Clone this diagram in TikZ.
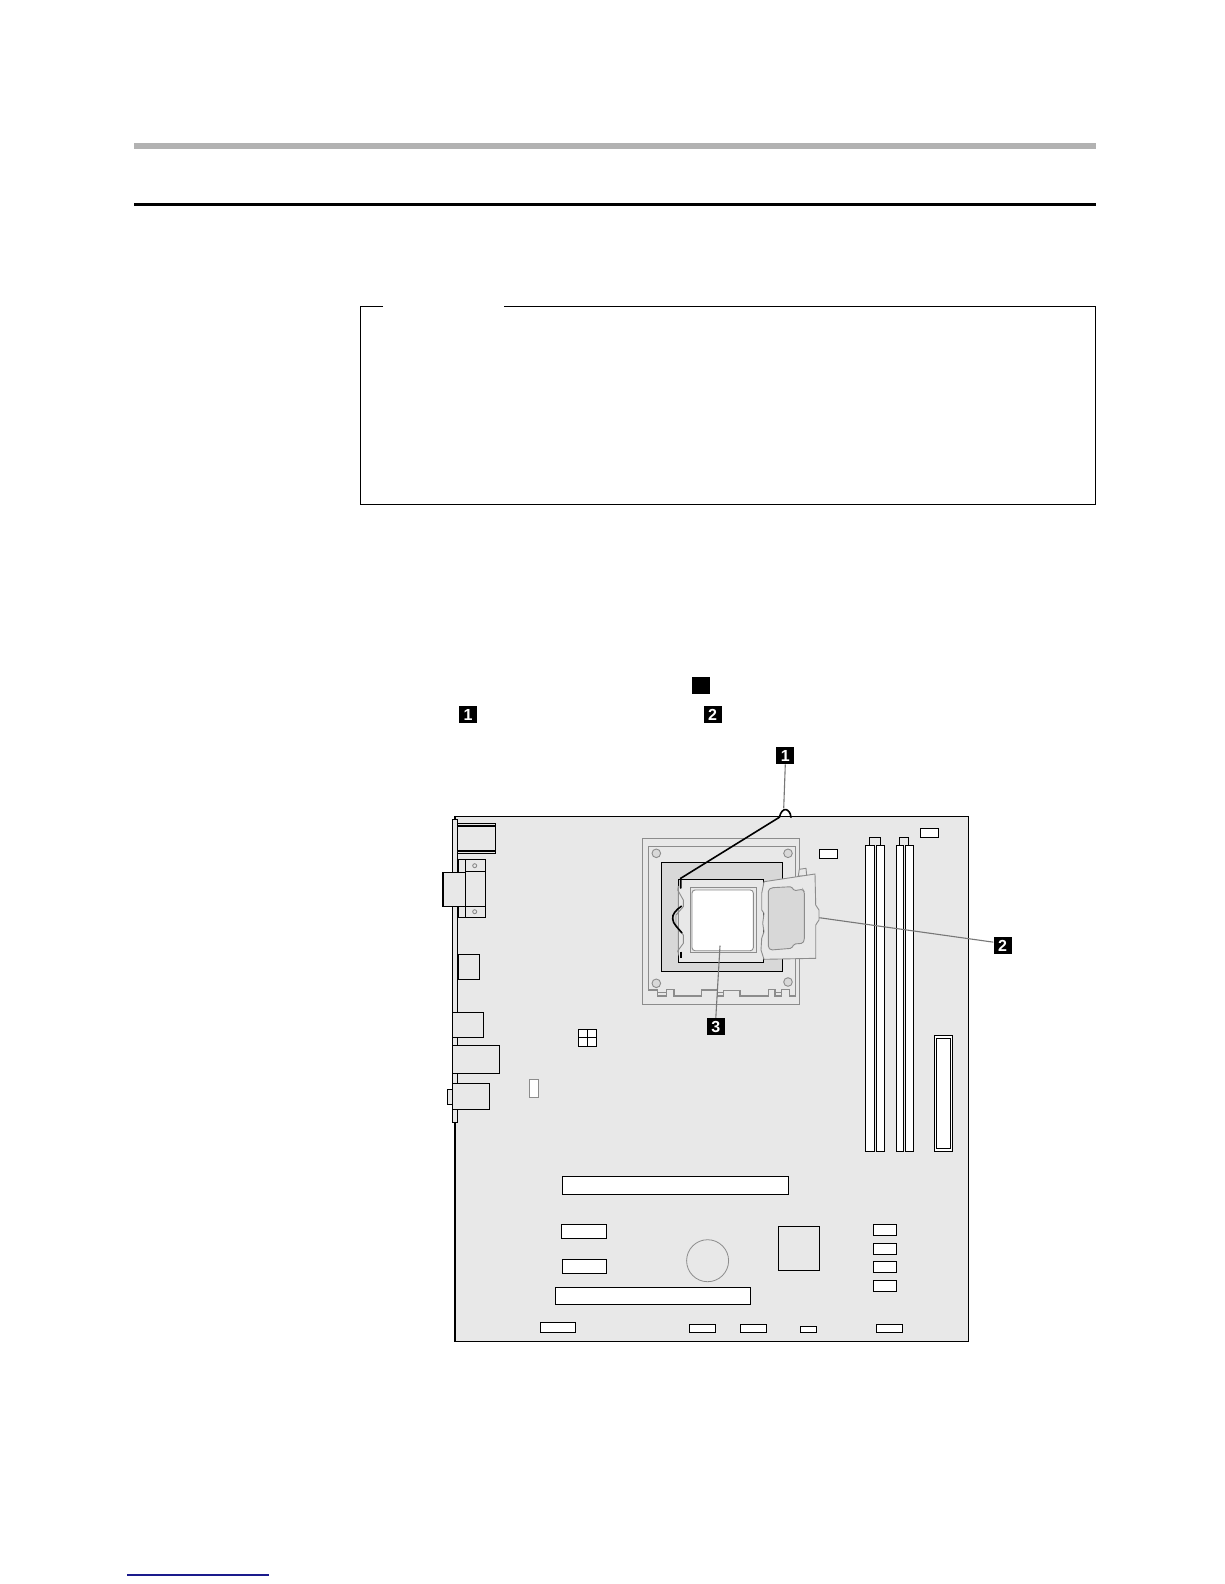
\documentclass[tikz,border=0pt]{standalone}
\usepackage{fontspec}
\setmainfont{Liberation Sans}
\definecolor{boardgray}{HTML}{E8E8E8}
\definecolor{socketgray}{HTML}{D8D8D8}
\definecolor{rulegray}{HTML}{B2B2B2}
\definecolor{leadgray}{HTML}{777777}
\definecolor{softgray}{HTML}{8C8C8C}
\definecolor{linkblue}{HTML}{1A1A8C}
\begin{document}
\begin{tikzpicture}[x=1pt,y=-1pt,line join=miter]
  \tikzstyle{part}=[draw=black,line width=1.1pt,fill=boardgray]
  \tikzstyle{slot}=[draw=black,line width=1.1pt,fill=white]
  \tikzstyle{soft}=[draw=softgray,line width=0.9pt]
  \tikzstyle{leader}=[draw=leadgray,line width=1.1pt]
  \tikzstyle{callout}=[fill=black,text=white,inner sep=0pt,minimum width=18pt,minimum height=17pt,
                       font=\fontsize{16}{16}\selectfont\bfseries]
  \useasboundingbox (0,0) rectangle (1224,1584);
  \fill[white] (0,0) rectangle (1224,1584);
  % page rules
  \fill[rulegray] (134,143) rectangle (1096,149);
  \fill[black] (134,203) rectangle (1096,206.4);
  \draw[line width=0.9pt] (383,306.5) -- (360.5,306.5) -- (360.5,504) -- (1095.5,504)
                          -- (1095.5,306.5) -- (504,306.5);
  \draw[linkblue,line width=1.1pt] (127,1575) -- (269,1575);
  % callouts in the text
  \node[callout] (blanksq) at (701,685.5) {};
  \node[callout] (textone) at (468,714.5) {1};
  \node[callout] (texttwo) at (712.5,714.5) {2};
  % board
  \draw[part] (455,816.3) rectangle (968.7,1341.3);
  \draw[part] (452.3,819.3) rectangle (457.7,1122.3);
  % rear ports
  \foreach \xa/\ya/\xb/\yb in {457.7/823.3/495.7/853.3, 458.3/859.3/485.7/917.3,
                               443/872.3/465.3/906.7, 458.3/954.3/479.7/979.7,
                               452.3/1012.3/483.3/1037.3, 452.3/1045.3/499.7/1073.3,
                               452.3/1083.3/489.7/1109.3, 447.3/1089.3/452.3/1104.3}
    \draw[part] (\xa,\ya) rectangle (\xb,\yb);
  \draw[part] (465.3,859.3) -- (465.3,917.3)
              (465.3,871.3) -- (485.7,871.3) (465.3,906.7) -- (485.7,906.7)
              (457.7,826) -- (495.7,826) (457.7,851) -- (495.7,851);
  \draw[soft] (474.7,865.7) circle (2) (474.7,911.7) circle (2);
  % power header and white pin
  \draw[slot] (578.3,1029.3) rectangle (596.3,1046.3);
  \draw[part,fill=none] (587.3,1029.3) -- (587.3,1046.3) (578.3,1037.3) -- (596.3,1037.3);
  \draw[soft,fill=white] (529.7,1079.3) rectangle (538.7,1097.7);
  % slots and headers
  \foreach \xa/\ya/\xb/\yb in {562.2/1176.3/788.5/1194.3, 561.2/1224.3/606.7/1238.7,
                               562.2/1259.3/606.7/1273.7, 555.4/1287.3/750.6/1304.3,
                               540.2/1322.3/575.7/1332.7, 689.3/1324.3/715.5/1332.7,
                               740.3/1324.3/766.8/1332.7, 800.2/1326.3/816.7/1332.7,
                               876.3/1324.3/902.5/1332.7, 873.2/1224.3/896.6/1235.7,
                               873.2/1243.3/896.6/1254.7, 873.2/1261.3/896.6/1272.7,
                               873.2/1280.3/896.6/1291.7, 920.3/828.3/938.7/837.3,
                               819.3/849.3/837.7/858.7}
    \draw[slot] (\xa,\ya) rectangle (\xb,\yb);
  \draw[part] (778.2,1226.3) rectangle (819.5,1270.7);
  \draw[soft,line width=0.8pt] (707.6,1260.7) circle (21);
  % memory sockets
  \draw[part,fill=none] (869.3,845.3) -- (869.3,837.3) -- (880.7,837.3) -- (880.7,845.3)
                        (899.7,845.3) -- (899.7,837.3) -- (908.7,837.3) -- (908.7,845.3);
  \foreach \xa/\xb in {865.3/874.7, 876.3/884.4, 896.3/903.7, 905.3/913.4}
    \draw[slot] (\xa,845.3) rectangle (\xb,1151.7);
  \draw[slot] (934.3,1035.3) rectangle (952.7,1151.7);
  \draw[slot] (936.3,1038.3) rectangle (950.7,1148.3);
  % processor socket
  \draw[soft,fill=boardgray,line width=1.1pt] (642.7,838.3) rectangle (799.3,1004.3);
  \draw[soft,line width=1.1pt] (648.3,846.3) -- (795.3,846.3) -- (795.3,996) -- (789.3,996)
        -- (789.3,989.3) -- (781.7,989.3) -- (781.7,996) -- (775,996) -- (775,989.3)
        -- (768.3,989.3) -- (768.3,996) -- (740,996) -- (740,990.7) -- (723.3,990.7)
        -- (723.3,996) -- (717.3,996) -- (717.3,990) -- (701.7,990) -- (701.7,996)
        -- (674,996) -- (674,989.3) -- (666.7,989.3) -- (666.7,996) -- (657.3,996)
        -- (657.3,990) -- (648.3,990) -- cycle
        (657.3,992.7) -- (666.7,992.7) (717.3,992.7) -- (723.3,992.7) (775,992.7) -- (781.7,992.7);
  \foreach \cx/\cy in {656.3/853.3, 788/853.3, 656.3/983.3, 788/982}
    \draw[soft,fill=socketgray] (\cx,\cy) circle (4.3);
  \draw[part,fill=socketgray] (661.3,862.3) rectangle (782.7,971.3);
  \draw[part] (678.3,879.3) rectangle (763.7,962.5);
  \draw[soft] (690,887.7) rectangle (756,952.7);
  \draw[soft,fill=white] (692,890) [rounded corners=3pt] rectangle (753.3,950.7);
  % latch on the left
  \draw[soft,fill=boardgray] (678.3,886) -- (677.7,890) -- (683.3,900) -- (683.3,906.7)
        -- (676,915) -- (676,925) -- (683.3,935) -- (683.3,943.3) -- (677.7,951) -- (678.3,953) -- cycle;
  % lid
  \draw[soft,fill=boardgray] (798.3,876) -- (799.3,869.3) -- (806,868.3) -- (806.7,876) -- cycle;
  \draw[soft,fill=boardgray] (764,881.7) -- (815,874) -- (815.7,905) -- (819,910) -- (819,920)
        -- (815.7,925) -- (815.7,958.3) -- (764,959.3) -- (761,950) -- (761.7,938.3) -- (764,931.7)
        -- (762.7,923.3) -- (764,913.3) -- (761.7,910) -- (761.7,893.3) -- cycle;
  \draw[soft,fill=socketgray,rounded corners=1.5pt] (768.3,890) -- (771.7,887.7) -- (791.7,886.7)
        -- (794,890.7) -- (802.7,889.3) -- (804.3,891.7) -- (804.3,940) -- (802.7,943.3) -- (794,944)
        -- (791.7,948.3) -- (770.7,950) -- (768.3,947.3) -- cycle;
  % retention wire
  \draw[line width=1.6pt,line cap=round] (791,817.3) .. controls (790,808) and (782,806) .. (779.3,817.3)
        -- (680.7,878.3) -- (680.7,888);
  \draw[line width=1.6pt] (681.7,906) .. controls (676,910) and (672,914) .. (672.7,919)
        .. controls (673,924) and (678,928) .. (682,933);
  \draw[line width=1.6pt] (680.7,951.7) -- (680.7,958);
  % labels
  \node[callout] (callouta) at (785.3,755.7) {1};
  \node[callout] (calloutb) at (1002.5,945.5) {2};
  \node[callout] (calloutc) at (715.8,1026.6) {3};
  \coordinate (wiretip) at (783.7,808.3);
  \coordinate (lidtip) at (819.3,917.7);
  \coordinate (cputip) at (720,945.7);
  \draw[leader] (callouta.south) -- (wiretip);
  \draw[leader] (calloutb.160) -- (lidtip);
  \draw[leader] (calloutc.north) -- (cputip);
\end{tikzpicture}
\end{document}
